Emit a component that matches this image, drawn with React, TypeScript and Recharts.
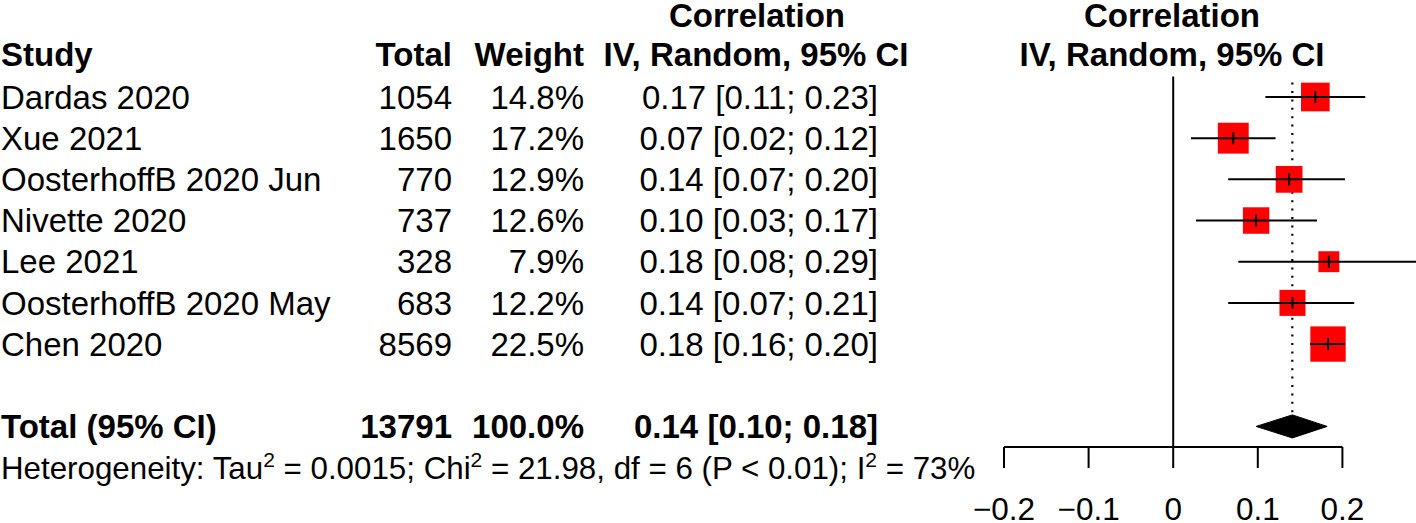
import React from 'react';
import {
  ComposedChart,
  XAxis,
  YAxis,
  Scatter,
  Area,
  ReferenceLine,
  Customized,
} from 'recharts';

// ---------- data ----------
const studies = [
  'Dardas 2020',
  'Xue 2021',
  'OosterhoffB 2020 Jun',
  'Nivette 2020',
  'Lee 2021',
  'OosterhoffB 2020 May',
  'Chen 2020',
];
const totals = [1054, 1650, 770, 737, 328, 683, 8569];
const weights = [14.8, 17.2, 12.9, 12.6, 7.9, 12.2, 22.5];
const estimates = [0.168, 0.071, 0.137, 0.098, 0.184, 0.141, 0.183];
const lowers = [0.109, 0.021, 0.065, 0.027, 0.077, 0.065, 0.162];
const uppers = [0.227, 0.121, 0.203, 0.170, 0.29, 0.214, 0.203];
const ciLabels = [
  '0.17 [0.11; 0.23]',
  '0.07 [0.02; 0.12]',
  '0.14 [0.07; 0.20]',
  '0.10 [0.03; 0.17]',
  '0.18 [0.08; 0.29]',
  '0.14 [0.07; 0.21]',
  '0.18 [0.16; 0.20]',
];

const pooledName = 'Total (95% CI)';
const pooledTotal = 13791;
const pooledWeight = '100.0%';
const pooledEstimate = 0.1408;
const pooledLower = 0.098;
const pooledUpper = 0.182;
const pooledLabel = '0.14 [0.10; 0.18]';
const pooledRow = 8;

const xTicks = [-0.2, -0.1, 0, 0.1, 0.2];

const heterogeneity = {
  tau2: '0.0015',
  chi2: '21.98',
  df: '6',
  p: 'P < 0.01',
  i2: '73%',
};

// ---------- derived tables for the library ----------
const studyRows = studies.map((name, i) => ({
  x: estimates[i],
  y: i,
  w: weights[i],
  lo: lowers[i],
  hi: uppers[i],
  name,
  total: String(totals[i]),
  weight: weights[i].toFixed(1) + '%',
  ci: ciLabels[i],
  bold: false,
}));

const totalRow = {
  x: pooledEstimate,
  y: pooledRow,
  name: pooledName,
  total: String(pooledTotal),
  weight: pooledWeight,
  ci: pooledLabel,
  bold: true,
};

const tableRows = [...studyRows, totalRow];

const DIAMOND_HALF = 0.28;
const diamondData = [
  { x: pooledLower, band: [pooledRow, pooledRow] },
  { x: pooledEstimate, band: [pooledRow - DIAMOND_HALF, pooledRow + DIAMOND_HALF] },
  { x: pooledUpper, band: [pooledRow, pooledRow] },
];

// ---------- styling ----------
const FONT = '"Liberation Sans", Arial, Helvetica, sans-serif';
const FS = 33;
const COL_STUDY = 1;
const COL_TOTAL = 452;
const COL_WEIGHT = 584;
const COL_CI = 878;
const BASE_OFF = 11.7;
const W = 1427;
const H = 523;
const MARGIN = { top: 27, right: 0, bottom: 46, left: 1004 };
const Y_DOMAIN: [number, number] = [-1.7, 8.5];
const X_DOMAIN: [number, number] = [-0.2, 0.3];

const SquareShape = (props: any) => {
  const { cx, cy, payload } = props;
  const s = 7.45 * Math.sqrt(payload.w);
  return <rect x={cx - s / 2} y={cy - s / 2} width={s} height={s} fill="#ff0000" />;
};

const TickShape = (props: any) => {
  const { cx, cy } = props;
  return <line x1={cx} x2={cx} y1={cy - 6} y2={cy + 6} stroke="#000" strokeWidth={2} />;
};

const TableRowShape = (props: any) => {
  const { cy, payload } = props;
  const base = cy + BASE_OFF;
  return (
    <g fontFamily={FONT} fontSize={FS} fontWeight={payload.bold ? 'bold' : 'normal'} fill="#000">
      <text x={COL_STUDY} y={base}>{payload.name}</text>
      <text x={COL_TOTAL} y={base} textAnchor="end">{payload.total}</text>
      <text x={COL_WEIGHT} y={base} textAnchor="end">{payload.weight}</text>
      <text x={COL_CI} y={base} textAnchor="end">{payload.ci}</text>
    </g>
  );
};

const Headers = () => (
  <g fontFamily={FONT} fontSize={FS} fontWeight="bold" fill="#000">
    <text x={757} y={27} textAnchor="middle">Correlation</text>
    <text x={756} y={66} textAnchor="middle">IV, Random, 95% CI</text>
    <text x={1} y={66}>Study</text>
    <text x={COL_TOTAL} y={66} textAnchor="end">Total</text>
    <text x={COL_WEIGHT} y={66} textAnchor="end">Weight</text>
    <text x={1172} y={27} textAnchor="middle">Correlation</text>
    <text x={1172} y={66} textAnchor="middle">IV, Random, 95% CI</text>
  </g>
);

const HetText = () => {
  const fs = 31.3;
  const sup = 21;
  return (
    <text x={1} y={479} fontFamily={FONT} fontSize={fs} fill="#000">
      <tspan>Heterogeneity: Tau</tspan>
      <tspan fontSize={sup} dy={-12}>2</tspan>
      <tspan dy={12}>{` = ${heterogeneity.tau2}; Chi`}</tspan>
      <tspan fontSize={sup} dy={-12}>2</tspan>
      <tspan dy={12}>{` = ${heterogeneity.chi2}, df = ${heterogeneity.df} (${heterogeneity.p}); I`}</tspan>
      <tspan fontSize={sup} dy={-12}>2</tspan>
      <tspan dy={12}>{` = ${heterogeneity.i2}`}</tspan>
    </text>
  );
};

const fmtTick = (v: number) => (v < 0 ? '\u2212' + Math.abs(v) : String(v));

const layer: React.CSSProperties = { position: 'absolute', left: 0, top: 0 };

export default function App() {
  return (
    <div
      style={{
        position: 'absolute',
        left: 0,
        top: 0,
        width: 1416,
        height: 523,
        overflow: 'hidden',
        background: '#fff',
      }}
    >
      {/* back layer: reference dotted line, squares, table text */}
      <div style={layer}>
        <ComposedChart width={W} height={H} margin={MARGIN}>
          <XAxis
            dataKey="x"
            type="number"
            domain={X_DOMAIN}
            ticks={xTicks}
            axisLine={false}
            tickLine={false}
            tick={false}
            height={30}
          />
          <YAxis dataKey="y" type="number" domain={Y_DOMAIN} reversed hide width={0} />

          <ReferenceLine
            segment={[
              { x: pooledEstimate, y: -0.35 },
              { x: pooledEstimate, y: pooledRow - DIAMOND_HALF },
            ]}
            stroke="#000"
            strokeWidth={2.2}
            strokeDasharray="2 6.4"
          />

          <Scatter data={studyRows} shape={SquareShape} isAnimationActive={false} />
          <Scatter data={tableRows} shape={TableRowShape} isAnimationActive={false} />

          <Customized component={<Headers />} />
          <Customized component={<HetText />} />
        </ComposedChart>
      </div>

      {/* front layer: confidence intervals, estimate ticks, axis, diamond */}
      <div style={layer}>
        <ComposedChart width={W} height={H} margin={MARGIN}>
          <XAxis
            dataKey="x"
            type="number"
            domain={X_DOMAIN}
            ticks={xTicks}
            interval={0}
            axisLine={false}
            stroke="#000"
            tickLine={{ stroke: '#000', strokeWidth: 2 }}
            tickSize={21}
            tickMargin={30}
            tick={{ fill: '#000', fontSize: 31.5, fontFamily: FONT }}
            tickFormatter={fmtTick}
            height={30}
          />
          <YAxis dataKey="y" type="number" domain={Y_DOMAIN} reversed hide width={0} />

          {studyRows.map((r) => (
            <ReferenceLine
              key={r.name}
              segment={[
                { x: r.lo, y: r.y },
                { x: r.hi, y: r.y },
              ]}
              stroke="#000"
              strokeWidth={2}
            />
          ))}

          <ReferenceLine
            segment={[
              { x: 0, y: -0.5 },
              { x: 0, y: 8.5 },
            ]}
            stroke="#000"
            strokeWidth={2}
          />
          <ReferenceLine
            segment={[
              { x: xTicks[0], y: 8.5 },
              { x: xTicks[xTicks.length - 1], y: 8.5 },
            ]}
            stroke="#000"
            strokeWidth={2}
          />

          <Scatter data={studyRows} shape={TickShape} isAnimationActive={false} />

          <Area
            data={diamondData}
            dataKey="band"
            type="linear"
            stroke="#000"
            strokeWidth={1}
            fill="#000"
            fillOpacity={1}
            dot={false}
            activeDot={false}
            isAnimationActive={false}
          />
        </ComposedChart>
      </div>
    </div>
  );
}
